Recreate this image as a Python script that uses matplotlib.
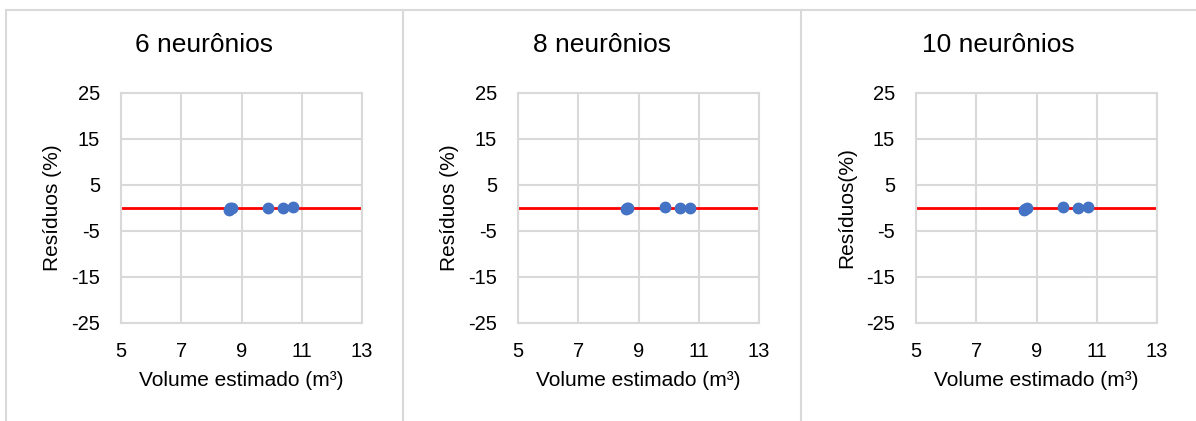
import numpy as np
import matplotlib
matplotlib.use('Agg')
import matplotlib.pyplot as plt
from matplotlib.lines import Line2D

plt.rcParams['font.family'] = ['Liberation Sans', 'DejaVu Sans']
plt.rcParams['axes.unicode_minus'] = False

titles = ['6 neurônios', '8 neurônios', '10 neurônios']
ylabels = ['Resíduos (%)', 'Resíduos (%)', 'Resíduos(%)']
xlabel = 'Volume estimado (m³)'

# estimated volume (m3) and residuals (%)
vol_6 = [8.57, 8.62, 8.67, 9.88, 10.37, 10.70]
res_6 = [-0.4, -0.1, 0.1, 0.1, 0.1, 0.15]
vol_8 = [8.57, 8.61, 8.65, 9.87, 10.38, 10.71]
res_8 = [-0.3, -0.1, 0.1, 0.2, -0.1, 0.0]
vol_10 = [8.57, 8.62, 8.67, 9.88, 10.37, 10.70]
res_10 = [-0.4, -0.2, 0.0, 0.2, 0.1, 0.15]

xticks = [5, 7, 9, 11, 13]
yticks = [25, 15, 5, -5, -15, -25]

W, H = 1196, 421
grid_c = '#d9d9d9'
dot_c = '#4472c4'


def style_axes(ax):
    ax.set_xlim(5, 13)
    ax.set_ylim(-25, 25)
    ax.set_xticks(xticks)
    ax.set_yticks(yticks)
    ax.grid(True, color=grid_c, lw=1.5)
    ax.set_axisbelow(True)
    for sp in ax.spines.values():
        sp.set_color(grid_c)
        sp.set_linewidth(1.5)
    ax.tick_params(length=0, labelsize=14.5, colors='black')
    ax.tick_params(axis='y', pad=15)
    ax.tick_params(axis='x', pad=14)


def main():
    fig = plt.figure(figsize=(W / 100, H / 100), dpi=100)

    data = [(vol_6, res_6), (vol_8, res_8), (vol_10, res_10)]
    ax_left = [121, 518, 916]
    panel_mid = [204, 602, 998]

    for i, (vol, res) in enumerate(data):
        ax = fig.add_axes([ax_left[i] / W, 1 - 323 / H, 241 / W, 230 / H])
        style_axes(ax)
        ax.axhline(0, color='#ff0000', lw=2, zorder=2)
        ax.plot(vol, res, 'o', color=dot_c, ms=7.5, zorder=3)
        ax.set_ylabel(ylabels[i], fontsize=15, va='center')
        ax.yaxis.set_label_coords(-0.286, 0.5)
        ax.set_xlabel(xlabel, fontsize=15, va='center')
        ax.xaxis.set_label_coords(0.5, -0.248)
        fig.text(panel_mid[i] / W, 1 - 45 / H, titles[i], fontsize=19,
                 ha='center', va='center')

    # panel borders
    for xp in [6, 403, 801]:
        fig.add_artist(Line2D([xp / W, xp / W], [0, 1 - 10 / H],
                              color=grid_c, lw=1.5))
    fig.add_artist(Line2D([6 / W, 1], [1 - 10 / H, 1 - 10 / H],
                          color=grid_c, lw=1.5))

    fig.savefig('out.png', dpi=100)


if __name__ == '__main__':
    main()
